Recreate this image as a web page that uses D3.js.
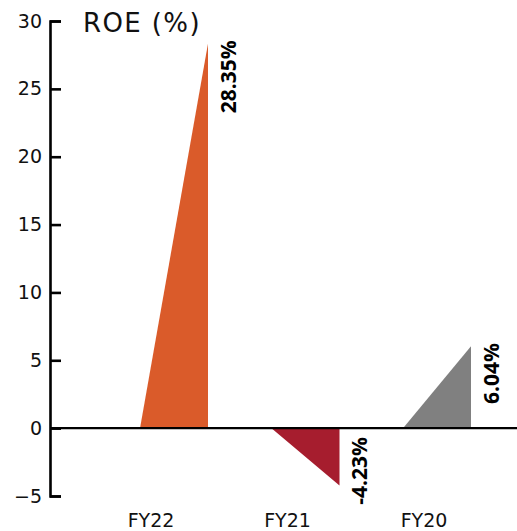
<!DOCTYPE html>
<html>
<head>
<meta charset="utf-8">
<script src="https://cdn.jsdelivr.net/npm/d3@7"></script>
<style>
  body { margin: 0; background: #fff; }
  svg { display: block; }
  .y-axis text { font-family: "DejaVu Sans", sans-serif; font-size: 19px; fill: #111; }
  .y-axis path, .y-axis line { stroke: #000; stroke-width: 2.6px; }
</style>
</head>
<body>
<div id="chart"></div>
<script>
// datos
let categories = ['FY22', 'FY21', 'FY20'];
let values = [28.35, -4.23, 6.04];
let colors = ['#DA5B2A', '#A61D2E', '#808080'];
let yTicks = [-5, 0, 5, 10, 15, 20, 25, 30];

let width = 517, height = 531;

let svg = d3.select('#chart')
    .append('svg')
    .attr('width', width)
    .attr('height', height);

//Eje Y
let y = d3.scaleLinear()
    .domain([-5, 30])
    .range([496, 21]);

svg.append('g')
    .attr('class', 'y-axis')
    .attr('transform', 'translate(50,0)')
    .call(d3.axisLeft(y).tickValues(yTicks).tickSizeInner(-11).tickSizeOuter(-11).tickPadding(8));

//Eje X (triángulos)
let x = d3.scaleBand()
    .domain(categories)
    .range([94, 517])
    .paddingInner(0.483)
    .paddingOuter(0.35);

// posición de las etiquetas de categoría
let xLabel = d3.scalePoint()
    .domain(categories)
    .range([151, 424]);

let bars = categories.map((c, i) => ({ cat: c, value: values[i], color: colors[i] }));

svg.selectAll('.tri')
    .data(bars)
    .enter()
    .append('path')
    .attr('class', 'tri')
    .attr('fill', d => d.color)
    .attr('d', d => {
        let x0 = x(d.cat), x1 = x(d.cat) + x.bandwidth();
        return 'M' + x0 + ',' + y(0) + 'L' + x1 + ',' + y(0) + 'L' + x1 + ',' + y(d.value) + 'Z';
    });

//Línea del cero
svg.append('line')
    .attr('x1', 50)
    .attr('x2', width)
    .attr('y1', y(0))
    .attr('y2', y(0))
    .attr('stroke', '#000')
    .attr('stroke-width', 2.4);

//Etiquetas de valor
svg.selectAll('.val')
    .data(bars)
    .enter()
    .append('text')
    .attr('class', 'val')
    .attr('transform', d => {
        let tx = x(d.cat) + x.bandwidth() + 28;
        let ty = d.value >= 0 ? y(d.value) - 3 : y(0) + 9;
        return 'translate(' + tx + ',' + ty + ') rotate(-90)';
    })
    .attr('text-anchor', 'end')
    .style('font-family', '"Open Sans", sans-serif')
    .style('font-weight', '700')
    .style('font-size', '21px')
    .attr('fill', '#000')
    .text(d => d.value.toFixed(2) + '%');

//Etiquetas de categoría
svg.selectAll('.cat')
    .data(categories)
    .enter()
    .append('text')
    .attr('class', 'cat')
    .attr('x', d => xLabel(d))
    .attr('y', 527)
    .attr('text-anchor', 'middle')
    .style('font-family', '"DejaVu Sans", sans-serif')
    .style('font-size', '19px')
    .attr('fill', '#111')
    .text(d => d);

//Título
svg.append('text')
    .attr('x', 83)
    .attr('y', 32)
    .style('font-family', '"DejaVu Sans", sans-serif')
    .style('font-size', '26px')
    .style('letter-spacing', '1.4px')
    .attr('fill', '#111')
    .text('ROE (%)');
</script>
</body>
</html>
